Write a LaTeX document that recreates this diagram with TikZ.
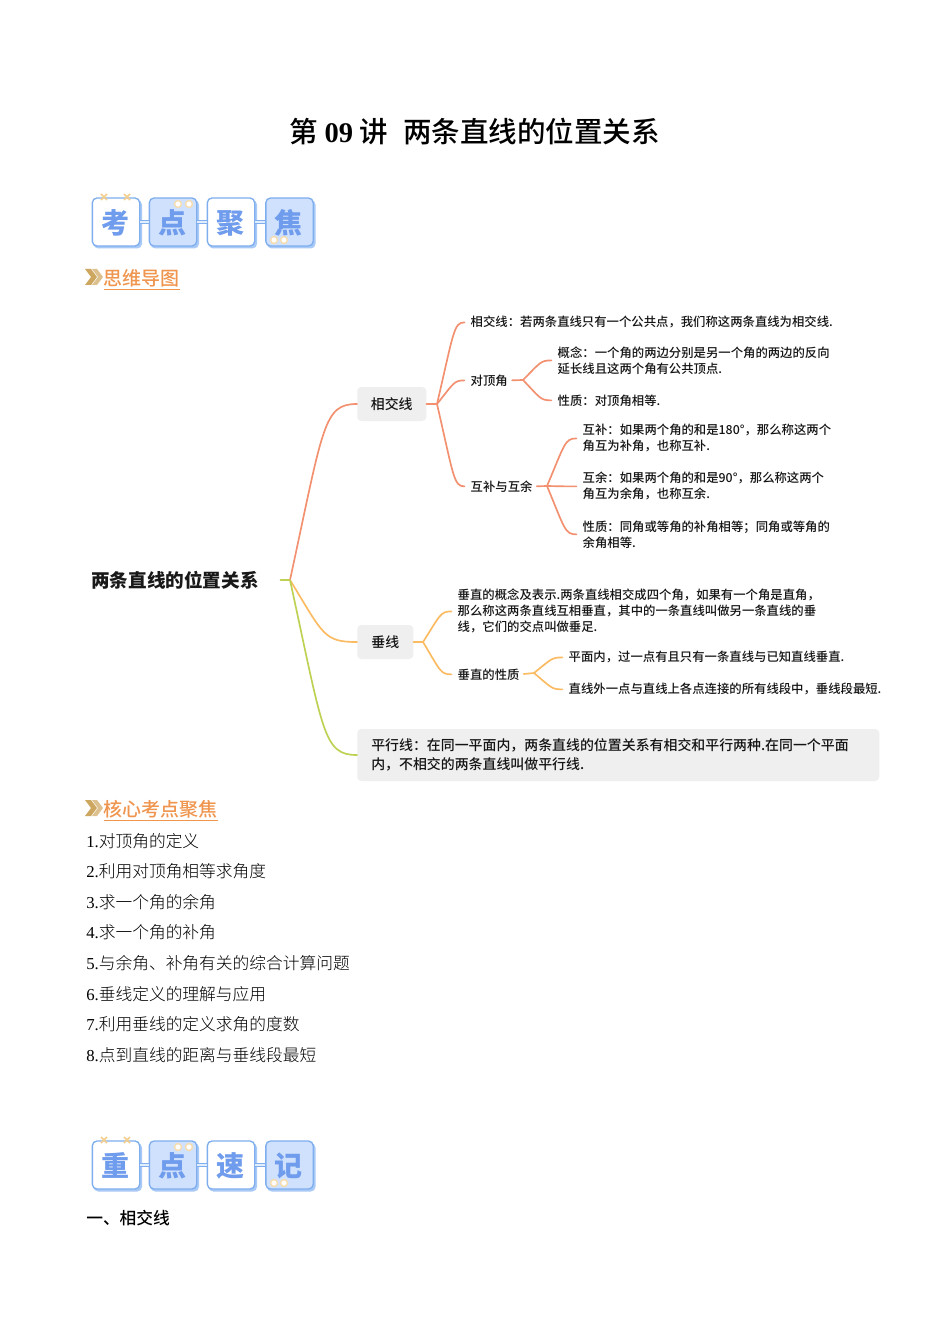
\documentclass[tikz,border=0pt]{standalone}
\usepackage{fontspec}
\usetikzlibrary{calc}
\setmainfont{Noto Sans CJK SC}
\newfontfamily\tms{Liberation Serif}
\newfontfamily\cjkm{Noto Sans CJK SC Medium}
\newfontfamily\cjkl{Noto Sans CJK SC Light}
\definecolor{cA}{HTML}{F2906F}
\definecolor{cB}{HTML}{FBBB62}
\definecolor{cC}{HTML}{BFD152}
\definecolor{boxg}{HTML}{EFEFEF}
\definecolor{bdg}{HTML}{7FAEEE}
\definecolor{shd}{HTML}{A9C9F6}
\definecolor{bfill}{HTML}{CFE1FD}
\definecolor{btxt}{HTML}{6F9CEC}
\definecolor{deco}{HTML}{F3CE8C}
\definecolor{dotd}{HTML}{F5DDB0}
\definecolor{head}{HTML}{F0954E}
\definecolor{chev}{HTML}{CDA75F}
\tikzset{
  x=0.75pt,y=-0.75pt,
  mm/.style={anchor=west,inner sep=0pt,align=left,text=black!92,xshift=-0.4pt,yshift=-0.3pt,font=\fontsize{9.27}{12}\cjkm\selectfont},
  graybox/.style={fill=boxg,rounded corners=3pt,inner sep=0pt,anchor=west,text=black!92,font=\fontsize{10.44}{13.8}\cjkm\selectfont},
  link/.style={line width=1.25pt,line cap=round},
  body/.style={anchor=west,inner sep=0pt,text=black,font=\fontsize{12.55}{14}\cjkl\selectfont},
  hd/.style={anchor=west,inner sep=0pt,text=head,font=\fontsize{14.25}{17}\cjkm\selectfont},
  bbox/.style={draw=bdg,line width=1pt,rounded corners=3.5pt,minimum width=35.5pt,minimum height=36pt,inner sep=0pt,text=btxt,font=\fontsize{21}{22}\bfseries\selectfont},
  dotc/.style={draw=dotd,fill=white,line width=1.1pt},
  xmark/.style={draw=deco,line width=1.2pt},
}
% connector: junction to child, straight run that bends in at the end
\newcommand{\cnx}[4][0pt]{\draw[link,#2,shorten >=#1] let \p1=(#3),\p2=(#4) in (\p1) .. controls ({0.5*\x1+0.5*\x2},{0.12*\y1+0.88*\y2}) and ({0.5*\x1+0.5*\x2},\y2) .. (\p2);}
\newcommand{\bchar}[1]{\hspace*{-1.4pt}\raisebox{-8.6pt}[0pt][0pt]{#1}}
\newcommand{\badge}[6]{% prefix, y-mid, chars
  \node[bbox,fill=white]  (#1a) at (116,#2) {\bchar{#3}};
  \node[bbox,fill=bfill]  (#1b) at (173,#2) {\bchar{#4}};
  \node[bbox,fill=white]  (#1c) at (231,#2) {\bchar{#5}};
  \node[bbox,fill=bfill]  (#1d) at (289.5,#2) {\bchar{#6}};
  \foreach \p/\q in {#1a/#1b,#1b/#1c,#1c/#1d}{
    \draw[bdg,line width=3.4pt] (\p.east) -- (\q.west);
    \draw[bfill!60!white,line width=1.4pt] (\p.east) -- (\q.west);
  }
  \foreach \xx in {104,127}{
    \draw[xmark] (\xx-3,#2-28) -- (\xx+3,#2-22);
    \draw[xmark] (\xx+3,#2-28) -- (\xx-3,#2-22);
  }
  \draw[dotc] (178,#2-18) circle (2.6pt);
  \draw[dotc] (189,#2-18) circle (2.6pt);
  \draw[dotc] (274,#2+18) circle (2.6pt);
  \draw[dotc] (284,#2+18) circle (2.6pt);
}
\newcommand{\shadowboxes}[1]{%
  \foreach \xx in {116,173,231,289.5}{
    \fill[shd,rounded corners=3.5pt] (\xx-22.5,#1-22) rectangle (\xx+26,#1+26.5);
  }
}
\newcommand{\chevrons}[1]{%
  \fill[chev] (85,#1-8) -- (91,#1-8) -- (97,#1) -- (91,#1+8) -- (85,#1+8) -- (91,#1) -- cycle;
  \fill[chev!70!white] (92,#1-8) -- (97,#1-8) -- (103,#1) -- (97,#1+8) -- (92,#1+8) -- (98,#1) -- cycle;
}
\begin{document}
\begin{tikzpicture}
\useasboundingbox[fill=white] (0,0) rectangle (950,1344);

% title
\node[anchor=center,inner sep=0pt,text=black,font=\fontsize{21.4}{24}\cjkm\selectfont] (title) at (474.5,132)
  {第\hspace{5.2pt}{\tms\bfseries 09}\hspace{5.2pt}讲\hspace{11pt}两条直线的位置关系};

% badges
\shadowboxes{222}
\badge{p}{222}{考}{点}{聚}{焦}
\shadowboxes{1165}
\badge{q}{1165}{重}{点}{速}{记}

% headings
\chevrons{277}
\node[hd] (h1) at (103.5,278) {思维导图};
\draw[head,line width=0.8pt] ([yshift=-1.8pt]h1.south west) -- ([yshift=-1.8pt]h1.south east);
\chevrons{808}
\node[hd] (h2) at (103.5,809) {核心考点聚焦};
\draw[head,line width=0.8pt] ([yshift=-1.8pt]h2.south west) -- ([yshift=-1.8pt]h2.south east);

% mind map nodes
\node[anchor=west,inner sep=0pt,text width=141.75pt,align=left,text=black!90,font=\fontsize{13.95}{16}\bfseries\selectfont] (root) at (91,580) {两条直线的位置关系};

\node[graybox,minimum width=51.75pt,minimum height=25.5pt,align=center] (xj) at (357,404) {相交线};
\node[graybox,minimum width=42pt,minimum height=25.5pt,align=center] (cz) at (357,642) {垂线};
\node[graybox,minimum height=39pt,inner xsep=10.5pt,text width=370.5pt,align=left] (px) at (357,755)
  {平行线：在同一平面内，两条直线的位置关系有相交和平行两种.在同一个平面\\内，不相交的两条直线叫做平行线.};

\node[mm] (a1) at (471,322) {相交线：若两条直线只有一个公共点，我们称这两条直线为相交线.};
\node[mm] (a2) at (471,380) {对顶角};
\node[mm] (a3) at (471,486) {互补与互余};
\node[mm] (a21) at (558,360) {概念：一个角的两边分别是另一个角的两边的反向\\延长线且这两个角有公共顶点.};
\node[mm] (a22) at (558,400) {性质：对顶角相等.};
\node[mm] (a31) at (583,438) {互补：如果两个角的和是180°，那么称这两个\\角互为补角，也称互补.};
\node[mm] (a32) at (583,486) {互余：如果两个角的和是90°，那么称这两个\\角互为余角，也称互余.};
\node[mm] (a33) at (583,534) {性质：同角或等角的补角相等；同角或等角的\\余角相等.};

\node[mm] (b1) at (458,611) {垂直的概念及表示.两条直线相交成四个角，如果有一个角是直角，\\那么称这两条直线互相垂直，其中的一条直线叫做另一条直线的垂\\线，它们的交点叫做垂足.};
\node[mm] (b2) at (458,674) {垂直的性质};
\node[mm] (b21) at (569,657) {平面内，过一点有且只有一条直线与已知直线垂直.};
\node[mm] (b22) at (569,689) {直线外一点与直线上各点连接的所有线段中，垂线段最短.};

% junctions
\coordinate (jr) at (290,580);
\coordinate (ja) at (437,404);
\coordinate (ja2) at (523,380);
\coordinate (ja3) at (547,486);
\coordinate (jb) at (423,642);
\coordinate (jb2) at (534,673);

% connectors
\draw[link,cC] (root.east) -- (jr);
\cnx{cA}{jr}{xj.west}
\cnx{cB}{jr}{cz.west}
\cnx{cC}{jr}{px.west}

\draw[link,cA] (xj.east) -- (ja);
\cnx[4.5pt]{cA}{ja}{a1.west}
\cnx[4.5pt]{cA}{ja}{a2.west}
\cnx[4.5pt]{cA}{ja}{a3.west}
\draw[link,cA,shorten <=3pt] (a2.east) -- (ja2);
\cnx[4.5pt]{cA}{ja2}{a21.west}
\cnx[4.5pt]{cA}{ja2}{a22.west}
\draw[link,cA,shorten <=3pt] (a3.east) -- (ja3);
\cnx[4.5pt]{cA}{ja3}{a31.west}
\cnx[4.5pt]{cA}{ja3}{a32.west}
\cnx[4.5pt]{cA}{ja3}{a33.west}

\draw[link,cB] (cz.east) -- (jb);
\cnx[4.5pt]{cB}{jb}{b1.west}
\cnx[4.5pt]{cB}{jb}{b2.west}
\draw[link,cB,shorten <=3pt] (b2.east) -- (jb2);
\cnx[4.5pt]{cB}{jb2}{b21.west}
\cnx[4.5pt]{cB}{jb2}{b22.west}

% list
\node[body] (l1) at (86,841) {{\tms 1.}对顶角的定义};
\node[body] (l2) at (86,871) {{\tms 2.}利用对顶角相等求角度};
\node[body] (l3) at (86,902) {{\tms 3.}求一个角的余角};
\node[body] (l4) at (86,932.5) {{\tms 4.}求一个角的补角};
\node[body] (l5) at (86,963) {{\tms 5.}与余角、补角有关的综合计算问题};
\node[body] (l6) at (86,994) {{\tms 6.}垂线定义的理解与应用};
\node[body] (l7) at (86,1024.5) {{\tms 7.}利用垂线的定义求角的度数};
\node[body] (l8) at (86,1055) {{\tms 8.}点到直线的距离与垂线段最短};
\node[body,font=\fontsize{12.55}{14}\cjkm\selectfont] (s1) at (86,1218) {一、相交线};
\end{tikzpicture}
\end{document}
